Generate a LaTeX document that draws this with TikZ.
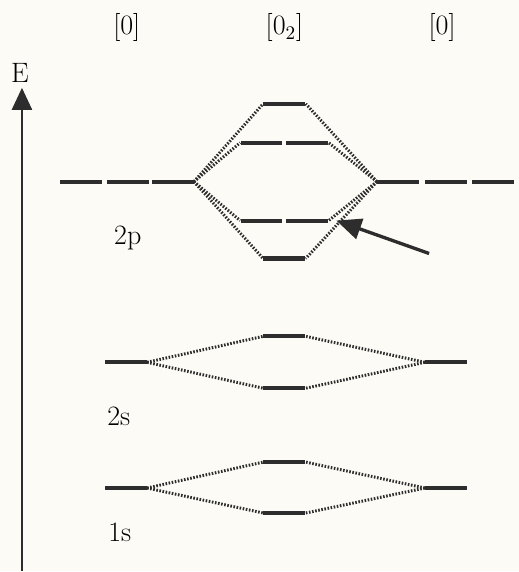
\documentclass[tikz,border=0pt]{standalone}
\usepackage{fontspec}
\usetikzlibrary{arrows.meta, positioning}
\definecolor{paper}{RGB}{252,251,245}
\definecolor{ink}{RGB}{45,45,45}

\begin{document}
\begin{tikzpicture}[
    x=0.02cm, y=-0.02cm,
    level/.style={rectangle, fill=ink, inner sep=0pt, minimum width=0.84cm, minimum height=2.3pt},
    link/.style={ink, line width=1.7pt, dash pattern=on 0.9pt off 0.9pt},
    lbl/.style={font=\fontsize{16}{18}\selectfont, inner sep=0pt},
    axis/.style={-{Triangle[length=0.44cm, width=0.4cm]}, line width=1.3pt, ink},
    pointer/.style={-{Triangle[length=0.5cm, width=0.42cm]}, line width=1.9pt, ink}
]

% Background / frame
\fill[paper] (0,0) rectangle (520,572);

% Headings
\node[lbl] (atomA) at (127,28) {[0]};
\node[lbl] (mol) at (285,28) {[0$_2$]};
\node[lbl] (atomB) at (443,28) {[0]};

% Energy axis
\coordinate (axbot) at (22,572);
\coordinate (axtop) at (22,88);
\draw[axis] (axbot) -- (axtop);
\node[lbl] (elabel) at (20,73) {E};

% 2p atomic levels
\node[level] (pL1) at (81,182) {};
\node[level] (pL2) at (128,182) {};
\node[level] (pL3) at (173,182) {};
\node[level] (pR1) at (399,182) {};
\node[level] (pR2) at (447,182) {};
\node[level] (pR3) at (494,182) {};

% 2p molecular levels
\node[level] (pss) at (285,104) {};
\node[level] (pps1) at (262,143) {};
\node[level] (pps2) at (308,143) {};
\node[level] (pp1) at (262,221) {};
\node[level] (pp2) at (308,221) {};
\node[level] (ps) at (285,259) {};

\draw[link] (pL3.east) -- (pss.west);
\draw[link] (pL3.east) -- (pps1.west);
\draw[link] (pL3.east) -- (pp1.west);
\draw[link] (pL3.east) -- (ps.west);
\draw[link] (pR1.west) -- (pss.east);
\draw[link] (pR1.west) -- (pps2.east);
\draw[link] (pR1.west) -- (pp2.east);
\draw[link] (pR1.west) -- (ps.east);

\node[lbl] (lab2p) at (128,238) {2p};

% Pointer
\coordinate (ptail) at (430,254);
\coordinate (ptip) at (337,221);
\draw[pointer] (ptail) -- (ptip);

% 2s
\node[level] (sL) at (126,363) {};
\node[level] (sR) at (447,363) {};
\node[level] (s2a) at (285,337) {};
\node[level] (s2b) at (285,389) {};
\draw[link] (sL.east) -- (s2a.west);
\draw[link] (sL.east) -- (s2b.west);
\draw[link] (sR.west) -- (s2a.east);
\draw[link] (sR.west) -- (s2b.east);
\node[lbl] (lab2s) at (119,417) {2s};

% 1s
\node[level] (oL) at (126,489) {};
\node[level] (oR) at (447,489) {};
\node[level] (o1a) at (285,463) {};
\node[level] (o1b) at (285,514) {};
\draw[link] (oL.east) -- (o1a.west);
\draw[link] (oL.east) -- (o1b.west);
\draw[link] (oR.west) -- (o1a.east);
\draw[link] (oR.west) -- (o1b.east);
\node[lbl] (lab1s) at (120,533) {1s};

\end{tikzpicture}
\end{document}
